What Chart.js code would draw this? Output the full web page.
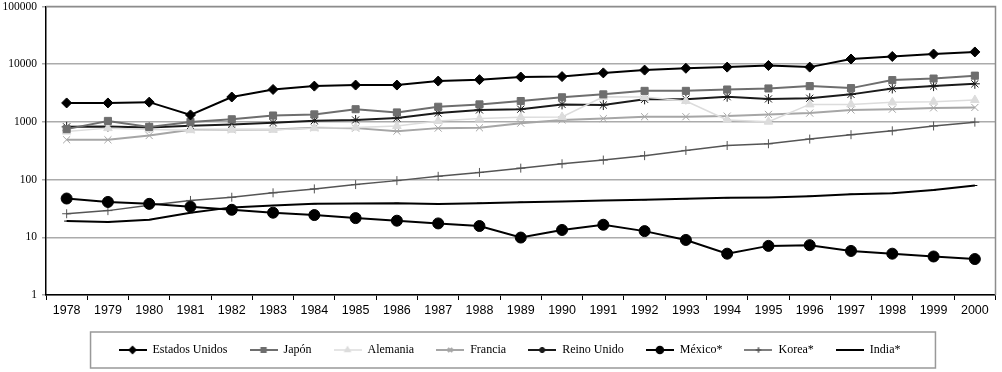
<!DOCTYPE html>
<html>
<head>
<meta charset="utf-8">
<script src="https://cdn.jsdelivr.net/npm/chart.js@4/dist/chart.umd.min.js"></script>
<style>
  html, body { margin: 0; padding: 0; background: #fff; }
  #wrap { width: 1002px; height: 372px; }
</style>
</head>
<body>
<div id="wrap"><canvas id="chart" width="1002" height="372"></canvas></div>
<script>
// categories
const years = ['1978', '1979', '1980', '1981', '1982', '1983', '1984', '1985', '1986', '1987', '1988', '1989',
  '1990', '1991', '1992', '1993', '1994', '1995', '1996', '1997', '1998', '1999', '2000'];

// series values (log scale)
const estadosUnidos = [2130, 2130, 2200, 1320, 2700, 3650, 4170, 4350, 4350, 5100, 5400, 6000, 6100, 7070, 7900, 8500, 8900, 9500, 8900, 12300, 13600, 15000, 16300];
const japon = [750, 1040, 820, 1000, 1110, 1290, 1350, 1660, 1460, 1830, 2010, 2300, 2670, 3000, 3450, 3450, 3640, 3800, 4170, 3850, 5300, 5640, 6330];
const alemania = [680, 780, 740, 720, 730, 730, 780, 800, 850, 1040, 1140, 1200, 1220, 2730, 2700, 2300, 1080, 1010, 2010, 2010, 2180, 2240, 2400];
const francia = [490, 490, 580, 730, 730, 740, 790, 780, 690, 780, 790, 950, 1080, 1140, 1230, 1230, 1260, 1350, 1420, 1610, 1660, 1750, 1780];
const reinoUnido = [820, 830, 800, 860, 900, 970, 1050, 1080, 1170, 1420, 1610, 1660, 2010, 1960, 2460, 2480, 2730, 2500, 2570, 3000, 3800, 4170, 4570];
const mexico = [47, 41, 38, 34, 30, 26.7, 24.3, 21.5, 19.4, 17.4, 15.7, 9.9, 13.4, 16.5, 12.8, 9.0, 5.2, 7.1, 7.3, 5.8, 5.2, 4.65, 4.2];
const korea = [25.6, 29, 36, 43.5, 49.5, 59, 69, 82, 96, 114, 133, 158, 188, 218, 260, 320, 390, 418, 504, 600, 700, 850, 990];
const india = [19.1, 18.4, 20.2, 26.7, 33, 35.6, 38, 38.6, 39, 37.6, 39, 40.6, 41.8, 43.5, 44.7, 46.5, 48.3, 49, 51.5, 55.8, 58, 66, 79];

// tick labels
const yTicks = [1, 10, 100, 1000, 10000, 100000];

// little line+marker picture for the legend
function legendSymbol(color, style, radius, lineWidth) {
  const c = document.createElement('canvas');
  c.width = 28;
  c.height = 12;
  const ctx = c.getContext('2d');
  ctx.strokeStyle = color;
  ctx.fillStyle = color;
  ctx.lineWidth = lineWidth;
  ctx.beginPath();
  ctx.moveTo(0, 6);
  ctx.lineTo(28, 6);
  ctx.stroke();
  Chart.helpers.drawPoint(ctx, { pointStyle: style, radius: radius, rotation: 0, borderWidth: 1 }, 14, 6);
  return c;
}

function series(label, data, color, style, radius, width) {
  return {
    label: label,
    data: data,
    borderColor: color,
    backgroundColor: color,
    pointBorderColor: color,
    pointBackgroundColor: color,
    borderWidth: width,
    pointStyle: style,
    pointRadius: radius,
    pointBorderWidth: 1,
    tension: 0,
    legendSymbol: legendSymbol(color, style, radius * 0.6, width)
  };
}

const datasets = [
  series('Estados Unidos', estadosUnidos, '#000000', 'rectRot', 5, 2),
  series('Japón', japon, '#6e6e6e', 'rect', 5, 2),
  series('Alemania', alemania, '#dcdcdc', 'triangle', 5, 1.5),
  series('Francia', francia, '#a6a6a6', 'crossRot', 5, 2),
  series('Reino Unido', reinoUnido, '#1a1a1a', 'star', 5, 2),
  series('México*', mexico, '#000000', 'circle', 5.5, 2),
  series('Korea*', korea, '#555555', 'cross', 4.5, 1.5),
  series('India*', india, '#000000', 'line', 2.5, 2)
];

// legend sits a bit right of centre in the original
const LEGEND_SHIFT = 10;

const framePlugin = {
  id: 'frame',
  afterLayout(chart) {
    chart.legend.left += LEGEND_SHIFT;
    chart.legend.right += LEGEND_SHIFT;
  },
  afterDraw(chart) {
    const ctx = chart.ctx;
    const a = chart.chartArea;
    ctx.save();
    ctx.strokeStyle = '#8c8c8c';
    ctx.lineWidth = 1.5;
    ctx.beginPath();
    ctx.moveTo(a.left, a.top);
    ctx.lineTo(a.right, a.top);
    ctx.lineTo(a.right, a.bottom);
    ctx.stroke();

    // box round the legend (hit boxes were laid out before the shift)
    const boxes = chart.legend.legendHitBoxes;
    if (boxes && boxes.length) {
      const first = boxes[0];
      const last = boxes[boxes.length - 1];
      const cy = first.top + first.height / 2;
      const x0 = first.left + LEGEND_SHIFT - 38;
      const x1 = last.left + last.width + LEGEND_SHIFT + 25;
      ctx.strokeStyle = '#999999';
      ctx.lineWidth = 1.5;
      ctx.strokeRect(x0, cy - 18, x1 - x0, 36);
    }
    ctx.restore();
  }
};

new Chart(document.getElementById('chart'), {
  type: 'line',
  data: {
    labels: years,
    datasets: datasets
  },
  options: {
    responsive: false,
    animation: false,
    devicePixelRatio: 1,
    layout: {
      padding: { top: 6, right: 3, bottom: 6, left: 0 }
    },
    plugins: {
      tooltip: { enabled: false },
      legend: {
        position: 'bottom',
        labels: {
          usePointStyle: true,
          pointStyleWidth: 28,
          padding: 22,
          color: '#000',
          font: { family: '"Liberation Serif", "Times New Roman", serif', size: 12 },
          generateLabels(chart) {
            return chart.data.datasets.map((ds, i) => ({
              text: ds.label,
              pointStyle: ds.legendSymbol,
              fillStyle: ds.borderColor,
              strokeStyle: ds.borderColor,
              lineWidth: 0,
              hidden: false,
              datasetIndex: i
            }));
          }
        }
      }
    },
    scales: {
      x: {
        offset: true,
        grid: {
          offset: true,
          drawOnChartArea: false,
          drawTicks: true,
          tickLength: 5,
          color: '#000'
        },
        border: { color: '#000', width: 1.5 },
        ticks: {
          color: '#000',
          padding: 3,
          maxRotation: 0,
          autoSkip: false,
          font: { family: '"Liberation Sans", Arial, sans-serif', size: 12.5 }
        },
        afterFit(scale) {
          scale.height = 27;
          scale.paddingLeft = 0;
          scale.paddingRight = 0;
        }
      },
      y: {
        type: 'logarithmic',
        min: 1,
        max: 100000,
        grid: {
          color: '#ababab',
          lineWidth: 1.5,
          tickLength: 4
        },
        border: { color: '#000', width: 1.5 },
        ticks: {
          color: '#000',
          padding: 5,
          font: { family: '"Liberation Serif", "Times New Roman", serif', size: 11.5 },
          callback: v => String(v)
        },
        afterBuildTicks(scale) {
          scale.ticks = yTicks.map(v => ({ value: v }));
        },
        afterFit(scale) {
          scale.width = 46;
          scale.paddingTop = 0;
          scale.paddingBottom = 0;
        }
      }
    }
  },
  plugins: [framePlugin]
});
</script>
</body>
</html>
